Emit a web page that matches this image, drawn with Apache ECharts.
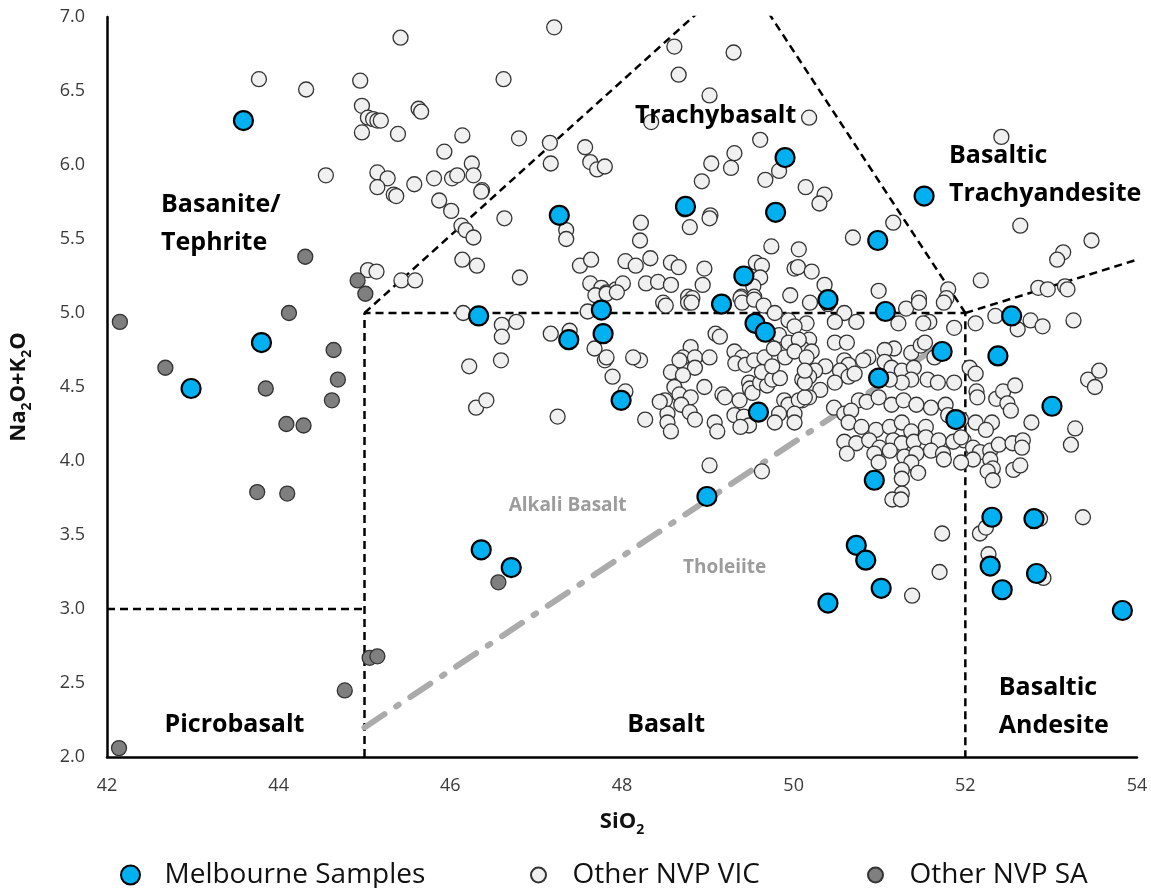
<!DOCTYPE html>
<html>
<head>
<meta charset="utf-8">
<title>TAS diagram – Newer Volcanic Province basalts</title>
<script src="https://cdn.jsdelivr.net/npm/echarts@6/dist/echarts.min.js"></script>
<style>
  html, body { margin: 0; padding: 0; background: #fff; }
  #chart { width: 1151px; height: 888px; }
</style>
</head>
<body>
<div id="chart"></div>
<script>
// Total alkali vs silica (wt%) for Newer Volcanic Province lavas.
const melbourneSamples = [
  [43.59, 6.30], [43.80, 4.80], [42.98, 4.49], [46.33, 4.98], [47.27, 5.66],
  [47.38, 4.82], [47.76, 5.02], [47.78, 4.86], [47.99, 4.41], [48.74, 5.72],
  [49.16, 5.06], [49.42, 5.25], [49.55, 4.93], [49.67, 4.87], [49.59, 4.33],
  [49.79, 5.68], [49.90, 6.05], [48.99, 3.76], [46.36, 3.40], [46.71, 3.28],
  [50.40, 5.09], [50.98, 5.49], [51.07, 5.01], [50.99, 4.56], [50.94, 3.87],
  [51.73, 4.74], [51.52, 5.79], [51.89, 4.28], [52.54, 4.98], [52.38, 4.71],
  [53.01, 4.37], [52.31, 3.62], [52.80, 3.61], [52.29, 3.29], [52.43, 3.13],
  [52.83, 3.24], [53.83, 2.99], [50.73, 3.43], [50.84, 3.33], [51.02, 3.14],
  [50.40, 3.04]
];

const otherNvpVic = [
  [45.42, 6.86], [43.77, 6.58], [44.32, 6.51], [44.95, 6.57], [45.63, 6.38], [45.66, 6.36],
  [44.97, 6.40], [45.04, 6.32], [45.10, 6.31], [45.15, 6.30], [45.19, 6.30], [44.97, 6.22],
  [45.39, 6.21], [46.14, 6.20], [45.93, 6.09], [44.55, 5.93], [45.15, 5.95], [45.27, 5.91],
  [45.15, 5.85], [45.34, 5.80], [45.37, 5.79], [45.58, 5.87], [45.81, 5.91], [46.02, 5.91],
  [46.08, 5.93], [45.87, 5.76], [46.01, 5.69], [46.13, 5.59], [46.18, 5.56], [46.14, 5.36],
  [45.43, 5.22], [45.59, 5.22], [45.04, 5.29], [45.14, 5.28],
  [47.21, 6.93], [46.62, 6.58], [48.61, 6.80], [48.66, 6.61], [48.34, 6.29], [46.80, 6.18],
  [47.16, 6.15], [47.17, 6.01], [47.57, 6.12], [47.63, 6.02], [47.71, 5.97], [47.80, 5.99],
  [46.25, 6.01], [46.27, 5.93], [46.37, 5.83], [46.36, 5.82], [46.27, 5.51], [46.63, 5.64],
  [47.35, 5.56], [47.35, 5.50], [46.31, 5.32], [46.81, 5.24], [48.22, 5.61], [48.21, 5.49],
  [48.73, 5.70], [48.79, 5.58], [48.93, 5.89], [49.02, 6.47], [49.04, 6.01], [49.03, 5.66],
  [49.02, 5.64], [47.51, 5.32], [47.64, 5.36], [48.04, 5.35], [48.16, 5.32], [48.33, 5.37],
  [48.57, 5.34], [48.66, 5.31], [48.96, 5.30], [47.63, 5.20], [47.76, 5.17], [47.82, 5.14],
  [47.93, 5.16], [48.01, 5.20], [48.28, 5.20], [48.42, 5.21], [48.57, 5.19], [48.94, 5.19],
  [48.77, 5.11], [48.82, 5.10],
  [49.30, 6.76], [50.18, 6.32], [49.61, 6.17], [49.31, 6.08], [49.27, 5.98], [49.67, 5.90],
  [49.83, 5.96], [50.14, 5.85], [50.36, 5.80], [50.30, 5.74], [51.16, 5.61], [50.69, 5.51],
  [49.74, 5.45], [50.06, 5.43], [49.56, 5.34], [49.63, 5.32], [49.61, 5.24], [49.53, 5.18],
  [50.01, 5.30], [50.05, 5.31], [50.21, 5.28], [50.36, 5.19], [49.96, 5.12], [50.99, 5.15],
  [51.80, 5.16], [51.78, 5.10], [52.18, 5.22], [51.46, 5.10], [49.39, 5.11], [49.54, 5.11],
  [52.42, 6.19], [52.64, 5.59], [53.47, 5.49], [53.14, 5.41], [53.07, 5.36], [52.85, 5.17],
  [52.96, 5.16], [53.16, 5.18], [53.19, 5.16],
  [52.12, 4.93], [52.35, 4.98], [52.61, 4.89], [52.76, 4.95], [52.90, 4.91], [53.26, 4.95],
  [52.05, 4.63], [52.12, 4.59], [52.13, 4.47], [52.14, 4.43], [52.36, 4.42], [52.44, 4.47],
  [52.58, 4.51], [52.49, 4.39], [52.53, 4.34], [53.43, 4.55], [53.51, 4.50], [53.56, 4.61],
  [52.77, 4.26], [53.28, 4.22], [53.23, 4.11], [52.12, 4.26], [52.31, 4.26], [52.24, 4.21],
  [51.98, 4.14], [51.95, 4.28], [52.09, 4.09], [52.17, 4.06], [52.29, 4.07], [52.39, 4.11],
  [52.55, 4.12], [52.67, 4.14], [52.66, 4.09], [52.09, 4.01], [51.95, 3.99], [52.29, 4.01],
  [52.32, 3.95], [52.26, 3.93], [52.32, 3.87], [52.56, 3.94], [52.64, 3.97], [53.37, 3.62],
  [52.17, 3.51], [52.24, 3.55], [52.87, 3.61], [52.27, 3.37], [52.91, 3.21],
  [50.19, 5.07], [50.40, 5.06], [50.59, 5.00], [50.73, 4.94], [51.31, 5.03], [51.46, 5.07],
  [51.58, 4.94], [51.51, 4.93], [51.75, 5.07], [51.87, 4.90], [51.22, 4.93], [50.48, 4.94],
  [50.15, 4.93], [50.18, 4.82], [50.10, 4.76], [50.21, 4.74], [50.48, 4.80], [50.62, 4.80],
  [51.17, 4.76], [51.06, 4.75], [50.87, 4.70], [50.81, 4.68], [51.37, 4.73], [51.48, 4.78],
  [51.53, 4.80], [51.64, 4.70], [50.59, 4.68], [50.64, 4.65], [50.54, 4.61], [50.37, 4.64],
  [50.25, 4.61], [50.10, 4.55], [50.18, 4.57], [50.48, 4.53], [50.64, 4.57], [50.71, 4.59],
  [51.06, 4.67], [51.14, 4.63], [51.26, 4.61], [51.40, 4.63], [51.37, 4.55], [51.26, 4.53],
  [51.12, 4.55], [51.56, 4.55], [51.68, 4.53], [51.87, 4.53], [50.76, 4.41], [50.85, 4.40],
  [50.99, 4.43], [51.14, 4.38], [51.28, 4.41], [51.43, 4.38], [50.47, 4.36], [50.31, 4.48],
  [50.18, 4.43], [50.10, 4.41], [51.60, 4.36], [51.77, 4.38], [51.80, 4.31], [50.59, 4.32],
  [50.67, 4.34], [50.64, 4.26], [50.79, 4.23], [50.96, 4.21], [51.12, 4.23], [51.26, 4.26],
  [51.37, 4.20], [51.54, 4.23], [50.59, 4.13], [50.73, 4.12], [50.88, 4.14], [51.00, 4.09],
  [51.16, 4.14], [51.26, 4.12], [51.40, 4.13], [51.54, 4.16], [51.69, 4.14], [51.86, 4.13],
  [50.62, 4.05], [50.94, 4.05], [51.12, 4.07], [51.29, 4.03], [51.43, 4.05], [51.60, 4.07],
  [51.74, 4.05], [51.95, 4.16], [50.99, 3.99], [51.37, 3.99], [51.75, 4.01],
  [48.48, 5.07], [48.51, 5.05], [48.77, 5.07], [48.81, 5.07], [49.38, 5.10], [49.40, 5.07],
  [49.54, 5.09], [49.65, 5.05], [49.78, 5.00], [49.94, 4.95], [50.01, 4.91], [49.09, 4.86],
  [49.14, 4.84], [49.83, 4.85], [49.94, 4.80], [50.06, 4.82], [48.80, 4.77], [48.71, 4.70],
  [48.67, 4.68], [48.85, 4.70], [49.02, 4.70], [48.21, 4.68], [49.31, 4.74], [49.40, 4.70],
  [49.32, 4.66], [49.44, 4.65], [49.54, 4.68], [49.66, 4.70], [49.77, 4.76], [49.90, 4.70],
  [50.01, 4.74], [50.15, 4.70], [48.57, 4.60], [48.85, 4.63], [48.71, 4.58], [48.61, 4.50],
  [48.50, 4.41], [48.96, 4.50], [48.67, 4.45], [48.80, 4.43], [48.69, 4.38], [48.79, 4.33],
  [48.53, 4.32], [48.85, 4.28], [48.53, 4.26], [48.57, 4.20], [48.44, 4.40], [48.27, 4.28],
  [49.08, 4.26], [49.11, 4.20], [49.02, 3.97], [49.17, 4.45], [49.20, 4.43], [49.37, 4.41],
  [49.48, 4.53], [49.49, 4.49], [49.52, 4.46], [49.61, 4.53], [49.69, 4.51], [49.63, 4.60],
  [49.75, 4.55], [49.84, 4.56], [49.75, 4.64], [49.89, 4.41], [49.94, 4.38], [50.06, 4.41],
  [50.01, 4.32], [50.13, 4.43], [49.31, 4.31], [49.42, 4.30], [49.48, 4.24], [49.38, 4.23],
  [50.01, 4.26], [49.83, 4.32], [49.78, 4.26], [50.13, 4.53], [50.13, 4.61],
  [46.15, 5.00], [46.60, 4.92], [46.60, 4.84], [46.77, 4.94], [46.22, 4.64], [46.59, 4.68],
  [46.30, 4.36], [46.42, 4.41], [47.25, 4.30], [47.17, 4.86], [47.39, 4.88], [47.60, 5.01],
  [47.69, 5.12], [47.82, 5.13], [47.94, 5.14], [47.68, 4.76], [47.80, 4.68], [47.82, 4.70],
  [47.89, 4.57], [48.04, 4.47], [48.13, 4.70],
  [49.63, 3.93], [51.26, 3.94], [51.45, 3.92], [51.26, 3.88], [51.26, 3.78], [51.15, 3.74],
  [51.25, 3.74], [51.73, 3.51], [51.70, 3.25], [51.38, 3.09]
];

const otherNvpSa = [
  [42.15, 4.94], [44.12, 5.00], [42.68, 4.63], [44.64, 4.75], [44.69, 4.55], [44.62, 4.41],
  [43.85, 4.49], [44.09, 4.25], [44.29, 4.24], [43.75, 3.79], [44.10, 3.78], [45.06, 2.67],
  [45.15, 2.68], [44.77, 2.45], [42.14, 2.06], [45.01, 5.13], [44.31, 5.38], [44.92, 5.22],
  [46.56, 3.18]
];

// TAS field boundaries (Le Bas et al.), each as a polyline of [SiO2, Na2O+K2O]
const tasBoundaries = [
  [[42, 3], [45, 3]],
  [[45, 2], [45, 5], [52, 5], [52, 2]],
  [[45, 5], [49.4, 7.3]],
  [[52, 5], [49.4, 7.3]],
  [[52, 5], [57, 5.9]]
];

// Alkaline / sub-alkaline divide
const alkaliDivide = [[45, 2.2], [51.7, 4.78]];

const xTicks = { min: 42, max: 54, step: 2 };
const yTicks = { min: 2, max: 7, step: 0.5 };

const chart = echarts.init(document.getElementById('chart'), null, { renderer: 'canvas' });

const baseFont = '"Open Sans", "Noto Sans", sans-serif';

function fieldLabel(name, x, y, gray) {
  const item = { name: name, value: [x, y] };
  if (gray) {
    item.label = { color: '#9c9c9c', fontSize: 19, lineHeight: 24 };
  }
  return item;
}

const boundarySeries = tasBoundaries.map(function (seg) {
  return {
    type: 'line',
    data: seg,
    symbol: 'none',
    silent: true,
    clip: true,
    z: 1,
    lineStyle: { color: '#000', width: 2.5, type: [8, 5] }
  };
});

const nameRich = {
  b: { fontFamily: baseFont, fontWeight: 'bold', fontSize: 22, color: '#111', lineHeight: 30 },
  s: { fontFamily: baseFont, fontWeight: 'bold', fontSize: 14, color: '#111', verticalAlign: 'bottom', lineHeight: 14 }
};

function legendBox(name, left, size) {
  return {
    data: [name], left: left, top: 856, itemWidth: 58, itemHeight: size,
    textStyle: { fontFamily: baseFont, fontSize: 28, color: '#111' }
  };
}

const option = {
  animation: false,
  backgroundColor: '#fff',
  grid: { left: 100, right: 14, top: 17, bottom: 131, containLabel: false },
  xAxis: {
    type: 'value',
    min: xTicks.min, max: xTicks.max, interval: xTicks.step,
    name: '{b|SiO}{s|2}',
    nameLocation: 'middle',
    nameGap: 50,
    nameTextStyle: { rich: nameRich },
    axisLine: { lineStyle: { color: '#000', width: 2.5 } },
    axisTick: { show: false },
    splitLine: { show: false },
    axisLabel: { fontFamily: baseFont, fontSize: 18, color: '#3a3a3a', margin: 20 }
  },
  yAxis: {
    type: 'value',
    min: yTicks.min, max: yTicks.max, interval: yTicks.step,
    name: '{b|Na}{s|2}{b|O+K}{s|2}{b|O}',
    nameLocation: 'middle',
    nameGap: 73,
    nameTextStyle: { rich: nameRich },
    axisLine: { show: true, lineStyle: { color: '#000', width: 2.5 } },
    axisTick: { show: false },
    splitLine: { show: false },
    axisLabel: {
      fontFamily: baseFont, fontSize: 18, color: '#3a3a3a', margin: 22,
      formatter: function (v) { return v.toFixed(1); }
    }
  },
  legend: [
    legendBox('Melbourne Samples', 115, 19),
    legendBox('Other NVP VIC', 525, 15),
    legendBox('Other NVP SA', 862, 15)
  ],
  series: boundarySeries.concat([
    {
      type: 'line',
      data: alkaliDivide,
      symbol: 'none',
      silent: true,
      z: 1,
      lineStyle: { color: '#ababab', width: 6, type: [24, 14, 3, 14], cap: 'round' }
    },
    {
      name: 'Other NVP VIC',
      type: 'scatter',
      data: otherNvpVic,
      symbolSize: 15,
      z: 3,
      itemStyle: { color: '#f0f0f0', borderColor: '#333', borderWidth: 1.3, opacity: 1 }
    },
    {
      name: 'Other NVP SA',
      type: 'scatter',
      data: otherNvpSa,
      symbolSize: 15,
      z: 4,
      itemStyle: { color: '#7f7f7f', borderColor: '#333', borderWidth: 1.3, opacity: 1 }
    },
    {
      name: 'Melbourne Samples',
      type: 'scatter',
      data: melbourneSamples,
      symbolSize: 19,
      z: 5,
      itemStyle: { color: '#00b0f0', borderColor: '#000', borderWidth: 2.2, opacity: 1 }
    },
    {
      // field names drawn above the points
      type: 'scatter',
      silent: true,
      symbolSize: 0,
      z: 6,
      itemStyle: { opacity: 1 },
      label: {
        show: true,
        position: [0, 0],
        align: 'left',
        verticalAlign: 'middle',
        formatter: '{b}',
        fontFamily: baseFont,
        fontWeight: 'bold',
        fontSize: 25,
        lineHeight: 38,
        color: '#000',
        opacity: 1
      },
      data: [
        fieldLabel('Basanite/\nTephrite', 42.63, 5.60),
        fieldLabel('Trachybasalt', 48.15, 6.33),
        fieldLabel('Basaltic\nTrachyandesite', 51.81, 5.93),
        fieldLabel('Picrobasalt', 42.67, 2.22),
        fieldLabel('Basalt', 48.06, 2.22),
        fieldLabel('Basaltic\nAndesite', 52.39, 2.34),
        fieldLabel('Alkali Basalt', 46.68, 3.70, true),
        fieldLabel('Tholeiite', 48.71, 3.28, true)
      ]
    }
  ])
};

chart.setOption(option);
</script>
</body>
</html>
